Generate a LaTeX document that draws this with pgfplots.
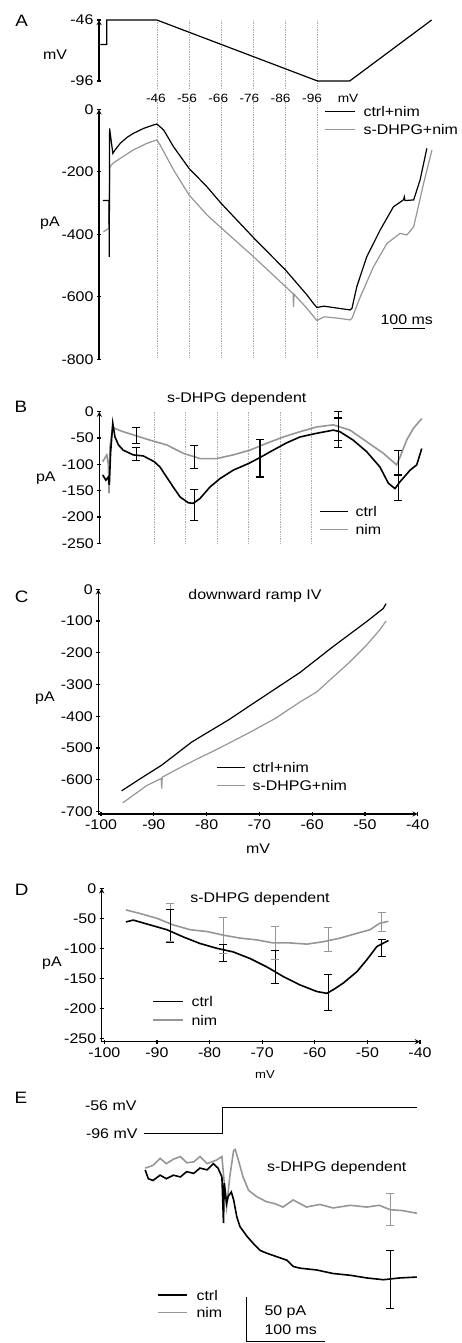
\documentclass[border=0pt]{standalone}
\usepackage{fontspec}
\setmainfont{Liberation Sans}[FakeStretch=1.14]
\usepackage{pgfplots}
\pgfplotsset{compat=1.18}
\definecolor{trgray}{RGB}{150,150,150}
\definecolor{dotgray}{RGB}{175,175,175}
\newcommand{\tf}{\fontsize{14}{16}\selectfont}
\newcommand{\smf}{\fontsize{12}{14}\selectfont}
\newcommand{\lf}{\fontsize{16.5}{18}\selectfont}

\pgfplotsset{
  panel/.style={scale only axis, clip=false, anchor=south west,
    axis line style={line width=1.3pt,-}, tick style={black,line width=1.3pt},
    major tick length=4pt, tick align=outside,
    tick label style={font=\tf}, /pgf/number format/assume math mode=true},
  blk/.style={black, line width=1.2pt, no markers},
  gry/.style={trgray, line width=1.2pt, no markers},
  nblk/.style={black, line width=1.6pt, no markers},
  ngry/.style={trgray, line width=1.6pt, no markers},
  % error bars: low and high end of each bar, bars separated by nan
  ebar/.style={#1, line width=1.1pt, mark=-, mark size=4pt,
    mark options={solid, line width=1.1pt}, unbounded coords=jump, forget plot},
}

\begin{document}
\begin{tikzpicture}
\useasboundingbox (0,0) rectangle (461pt,-1343pt);

% ---------- A: voltage protocol ----------
\begin{axis}[panel, at={(99pt,-81pt)}, width=340.7pt, height=61pt,
  xmin=-180, xmax=880, ymin=-96, ymax=-46,
  axis x line=none, axis y line=left, ytick={-96,-46}]
\pgfplotsinvokeforeach{0,100,200,300,400,500}{
  \draw[dotgray, densely dotted, line width=0.7pt] (axis cs:#1,-46) -- (axis cs:#1,-103);}
\addplot[blk] coordinates {(-176,-66) (-156,-66) (-156,-46) (0,-46) (500,-96) (600,-96) (855,-46)};
\node[font=\smf] at (axis cs:-3,-110) {-46};
\node[font=\smf] at (axis cs:94,-110) {-56};
\node[font=\smf] at (axis cs:191,-110) {-66};
\node[font=\smf] at (axis cs:288,-110) {-76};
\node[font=\smf] at (axis cs:385,-110) {-86};
\node[font=\smf] at (axis cs:483,-110) {-96};
\node[font=\smf] at (axis cs:595,-110) {mV};
\end{axis}
\node[font=\lf] at (21.7pt,-20.5pt) {A};
\node[font=\tf] at (55pt,-55pt) {mV};

% ---------- A: current ----------
\begin{axis}[panel, at={(99pt,-359.3pt)}, width=340.7pt, height=250pt,
  xmin=-180, xmax=880, ymin=-800, ymax=0,
  axis x line=none, axis y line=left, ytick={-800,-600,...,0}]
\pgfplotsinvokeforeach{0,100,200,300,400,500}{
  \draw[dotgray, densely dotted, line width=0.7pt] (axis cs:#1,30) -- (axis cs:#1,-795);}
\addplot[gry] coordinates {(-166,-392) (-150,-381) (-146,-184) (-137,-173) (-114,-157)
  (-73,-130) (-31,-109) (0,-98) (10,-114) (52,-194) (100,-274) (156,-338) (202,-381)
  (301,-472) (401,-568) (424,-590) (425,-632) (427,-592) (467,-637) (498,-676) (520,-664)
  (560,-668) (601,-674) (607,-669) (633,-600) (674,-504) (716,-429) (757,-397)
  (778,-402) (799,-376) (830,-237) (856,-130)};
\addplot[blk] coordinates {(-168,-292) (-149,-292) (-148,-472) (-147,-61) (-137,-141)
  (-130,-130) (-114,-109) (-93,-90) (-73,-77) (-41,-61) (-10,-50) (0,-47) (21,-66)
  (52,-120) (100,-189) (156,-248) (200,-301) (300,-410) (400,-514) (467,-594)
  (490,-625) (498,-634) (520,-630) (560,-636) (601,-642) (607,-637) (622,-568)
  (653,-472) (695,-386) (736,-312) (767,-290) (770,-280) (772,-292) (799,-290)
  (819,-226) (840,-125)};
\draw[black, line width=1.3pt] (axis cs:735,-701) -- (axis cs:835,-701);
\end{axis}
\node[font=\tf] at (406.7pt,-320pt) {100 ms};
\node[font=\tf] at (50pt,-222.7pt) {pA};
\draw[black, line width=1.2pt] (325pt,-111.7pt) -- (355pt,-111.7pt);
\node[font=\tf, anchor=west] at (360pt,-111.7pt) {ctrl+nim};
\draw[trgray, line width=1.2pt] (325pt,-129.3pt) -- (355pt,-129.3pt);
\node[font=\tf, anchor=west] at (360pt,-129.3pt) {s-DHPG+nim};

% ---------- B ----------
\begin{axis}[panel, at={(99.3pt,-543.3pt)}, width=331.9pt, height=131.6pt,
  xmin=-174.8, xmax=880, ymin=-250, ymax=0,
  axis x line=none, axis y line=left, ytick={-250,-200,...,0}]
\pgfplotsinvokeforeach{0,100,200,300,400,500}{
  \draw[dotgray, densely dotted, line width=0.7pt] (axis cs:#1,0) -- (axis cs:#1,-250);}
\addplot[ngry] coordinates {(-164,-95) (-151,-82) (-146,-100) (-144,-155) (-141,-67)
  (-132,-29) (-125,-32) (-99,-38) (-67,-44) (-14,-54) (39,-63) (92,-79) (145,-89)
  (198,-89) (251,-82) (304,-73) (357,-60) (410,-48) (463,-38) (516,-29) (569,-25)
  (622,-35) (675,-57) (728,-79) (770,-101) (781,-86) (802,-54) (823,-32) (850,-13)};
\addplot[nblk] coordinates {(-164,-120) (-154,-130) (-146,-124) (-143,-139) (-139,-79)
  (-132,-22) (-125,-48) (-114,-63) (-99,-73) (-67,-82) (-35,-84) (0,-95) (18,-105)
  (39,-124) (60,-143) (82,-162) (108,-173) (124,-174) (145,-165) (177,-143) (209,-127)
  (251,-111) (301,-98) (336,-87) (378,-73) (421,-59) (463,-48) (516,-41) (569,-35)
  (590,-38) (632,-54) (675,-76) (717,-105) (744,-136) (765,-146) (781,-133)
  (813,-111) (834,-101) (850,-70)};
\addplot[ebar=black] coordinates {(-58,-30) (-58,-60) (-58,nan) (-58,-68) (-58,-92) (-58,nan)
  (127,-64.5) (127,-107.5) (127,nan) (127,-147) (127,-207) (127,nan)
  (336,-52) (336,-124) (336,nan) (585,0) (585,-54) (585,nan) (585,-12) (585,-68) (585,nan)
  (775,-73) (775,-121) (775,nan) (775,-120) (775,-168)};
\end{axis}
\node[font=\lf] at (20.8pt,-406.7pt) {B};
\node[font=\tf] at (236.7pt,-399.3pt) {s-DHPG dependent};
\node[font=\tf] at (45.8pt,-478pt) {pA};
\draw[black, line width=1.2pt] (320pt,-511.7pt) -- (348pt,-511.7pt);
\node[font=\tf, anchor=west] at (352pt,-511.7pt) {ctrl};
\draw[trgray, line width=1.2pt] (320pt,-529.3pt) -- (348pt,-529.3pt);
\node[font=\tf, anchor=west] at (352pt,-529.3pt) {nim};

% ---------- C ----------
\begin{axis}[panel, at={(98.4pt,-814pt)}, width=319.3pt, height=224.7pt,
  xmin=-100.5, xmax=-40, ymin=-708, ymax=0, axis lines=left,
  xtick={-100,-90,...,-40}, ytick={-700,-600,...,0}]
\addplot[gry] coordinates {(-95.9,-673) (-93.9,-649) (-91.3,-618) (-88.6,-596)
  (-88.5,-628) (-88.4,-592) (-85.5,-566) (-82.2,-538) (-79,-512) (-75.9,-486)
  (-71.5,-448) (-67.0,-407) (-62.3,-355) (-59.1,-323) (-56.0,-276) (-52.8,-228)
  (-49.7,-176) (-47.2,-128) (-46.0,-100)};
\addplot[blk] coordinates {(-96.1,-635) (-92.5,-596) (-88.5,-554) (-82.8,-481)
  (-75.9,-412) (-70.2,-349) (-62.3,-262) (-56.0,-180) (-49.7,-102) (-46.5,-60)
  (-46.0,-45)};
\end{axis}
\node[font=\lf] at (21.7pt,-596.7pt) {C};
\node[font=\tf] at (255pt,-596pt) {downward ramp IV};
\node[font=\tf] at (45pt,-698pt) {pA};
\node[font=\tf] at (258pt,-848.3pt) {mV};
\draw[black, line width=1.2pt] (216.7pt,-767.3pt) -- (245pt,-767.3pt);
\node[font=\tf, anchor=west] at (249pt,-767.3pt) {ctrl+nim};
\draw[trgray, line width=1.2pt] (216.7pt,-785.3pt) -- (245pt,-785.3pt);
\node[font=\tf, anchor=west] at (249pt,-785.3pt) {s-DHPG+nim};

% ---------- D ----------
\begin{axis}[panel, at={(101.7pt,-1041.7pt)}, width=318.3pt, height=153.4pt,
  xmin=-100.5, xmax=-40, ymin=-255.6, ymax=0, axis lines=left,
  xtick={-100,-90,...,-40}, ytick={-250,-200,...,0}]
\addplot[ngry] coordinates {(-95.9,-36) (-93.2,-42) (-90.0,-50) (-86.9,-61) (-83.7,-69)
  (-80.5,-72) (-77.4,-78) (-74.2,-83) (-71.0,-86) (-67.9,-91) (-64.7,-91) (-61.5,-93)
  (-58.4,-89) (-55.2,-83) (-52.0,-75) (-49.5,-69) (-47.6,-58) (-46.0,-55)};
\addplot[nblk] coordinates {(-95.9,-56) (-94.5,-53) (-91.3,-61) (-88.1,-69) (-85.0,-81)
  (-81.8,-92) (-78.6,-100) (-75.5,-106) (-72.3,-117) (-69.1,-131) (-66.0,-147)
  (-62.8,-161) (-59.6,-172) (-57.7,-175) (-56.5,-169) (-54.6,-158) (-52.0,-139)
  (-50.1,-119) (-48.2,-97) (-46.0,-87)};
\addplot[ebar=trgray] coordinates {(-87.5,-26) (-87.5,-88) (-87.5,nan)
  (-77.4,-48) (-77.4,-108) (-77.4,nan) (-67.5,-64) (-67.5,-118) (-67.5,nan)
  (-57.4,-66) (-57.4,-106) (-57.4,nan) (-47.3,-40) (-47.3,-72)};
\addplot[ebar=black] coordinates {(-87.5,-35) (-87.5,-91) (-87.5,nan)
  (-77.4,-94) (-77.4,-122) (-77.4,nan) (-67.5,-104) (-67.5,-158) (-67.5,nan)
  (-57.4,-143) (-57.4,-203) (-57.4,nan) (-47.3,-86) (-47.3,-114)};
\end{axis}
\node[font=\lf] at (21.7pt,-889.7pt) {D};
\node[font=\tf] at (260pt,-899pt) {s-DHPG dependent};
\node[font=\tf] at (52pt,-963.3pt) {pA};
\node[font=\fontsize{11.5}{13}\selectfont] at (265pt,-1075pt) {mV};
\draw[black, line width=1.2pt] (153.3pt,-1001.7pt) -- (183.3pt,-1001.7pt);
\node[font=\tf, anchor=west] at (188pt,-1001.7pt) {ctrl};
\draw[trgray, line width=1.2pt] (153.3pt,-1020pt) -- (183.3pt,-1020pt);
\node[font=\tf, anchor=west] at (188pt,-1020pt) {nim};

% ---------- E: voltage step ----------
\begin{axis}[panel, at={(144.4pt,-1133.3pt)}, width=274.05pt, height=26pt,
  xmin=-100, xmax=250, ymin=-96, ymax=-56, hide axis]
\addplot[blk] coordinates {(-101,-96) (0,-96) (0,-56) (248,-56)};
\end{axis}
\node[font=\lf] at (20.8pt,-1097.5pt) {E};
\node[font=\tf, anchor=east] at (140pt,-1106pt) {-56 mV};
\node[font=\tf, anchor=east] at (141pt,-1133.3pt) {-96 mV};

% ---------- E: current ----------
\begin{axis}[panel, at={(144.4pt,-1317.8pt)}, width=274.05pt, height=177.2pt,
  xmin=-100, xmax=250, ymin=-160, ymax=40, hide axis]
\addplot[ngry] coordinates {(-99,9) (-89,12) (-80,20) (-72,14) (-63,19) (-54,22) (-46,15)
  (-37,16) (-29,22) (-20,14) (-8,18) (-1,22) (2,-8) (5,-35) (9,-1) (14,29) (16,30)
  (20,18) (26,-1) (33,-16) (43,-23) (56,-29) (66,-31) (77,-35) (90,-27) (107,-35)
  (124,-32) (141,-36) (163,-33) (184,-35) (200,-33) (214,-38) (230,-39) (248,-42)};
\addplot[nblk] coordinates {(-99,7) (-95,-3) (-89,-5) (-80,1) (-72,-3) (-63,1) (-54,-1)
  (-46,5) (-37,3) (-29,9) (-20,7) (-12,14) (-6,9) (-1,-1) (1,-53) (2,-8) (5,-31)
  (7,-23) (11,-18) (14,-27) (18,-46) (22,-57) (31,-68) (39,-76) (48,-84) (56,-87)
  (69,-91) (82,-95) (90,-102) (99,-104) (120,-106) (141,-110) (163,-112) (184,-115)
  (205,-117) (226,-115) (248,-114)};
\addplot[ebar=trgray] coordinates {(214,-19.5) (214,-55.5)};
\addplot[ebar=black] coordinates {(214,-84.5) (214,-149.5)};
\draw[black, line width=1.2pt] (axis cs:30.7,-137) -- (axis cs:30.7,-187) -- (axis cs:130.7,-187);
\end{axis}
\node[font=\tf] at (336.7pt,-1168.3pt) {s-DHPG dependent};
\node[font=\tf, anchor=west] at (261pt,-1311.7pt) {50 pA};
\node[font=\tf, anchor=west] at (261pt,-1329.3pt) {100 ms};
\draw[black, line width=1.2pt] (158.3pt,-1295pt) -- (186.7pt,-1295pt);
\node[font=\tf, anchor=west] at (193pt,-1295pt) {ctrl};
\draw[trgray, line width=1.2pt] (158.3pt,-1312.7pt) -- (186.7pt,-1312.7pt);
\node[font=\tf, anchor=west] at (193pt,-1312.7pt) {nim};
\end{tikzpicture}
\end{document}
